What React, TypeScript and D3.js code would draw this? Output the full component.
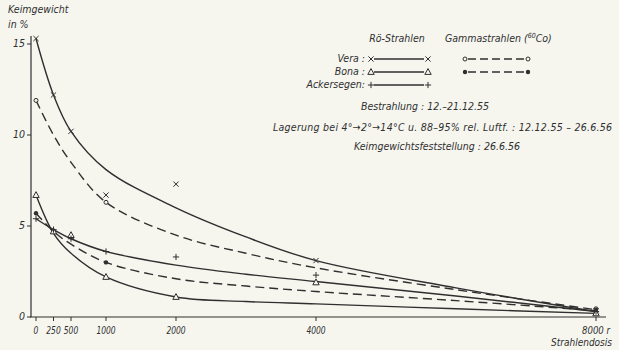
import * as d3 from "d3";

// x-axis ticks (Strahlendosis, r)
const doseTicks = [0, 250, 500, 1000, 2000, 4000, 8000];
const yTicks = [0, 5, 10, 15];

// hand-drawn fitted curves
const curveDoses = [0, 250, 500, 1000, 2000, 3000, 4000, 6000, 8000];
const veraRoCurve = [15.3, 12.2, 10.2, 8.1, 6.0, 4.4, 3.1, 1.6, 0.3];
const veraGammaCurve = [11.9, 10.0, 8.5, 6.3, 4.5, 3.5, 2.7, 1.5, 0.4];
const ackerCurve = [5.4, 4.8, 4.3, 3.6, 2.85, 2.35, 1.95, 1.15, 0.3];
const bonaGammaCurve = [5.7, 4.7, 4.0, 3.0, 2.1, 1.7, 1.4, 0.9, 0.35];
const bonaRoCurve = [6.7, 4.6, 3.5, 2.2, 1.1, 0.85, 0.72, 0.45, 0.2];

// measured points
const roDoses = [0, 250, 500, 1000, 2000, 4000, 8000];
const veraRoPts = [15.3, 12.2, 10.2, 6.7, 7.3, 3.1, 0.35];
const bonaRoPts = [6.7, 4.7, 4.5, 2.2, 1.1, 1.9, 0.2];
const ackerPts = [5.4, 4.8, 4.3, 3.6, 3.3, 2.3, 0.3];
const gammaDoses = [0, 1000, 8000];
const veraGammaPts = [11.9, 6.3, 0.45];
const bonaGammaPts = [5.7, 3.0, 0.4];

const ink = "#2f2f2f";
const paper = "#f6f6ef";
const font = "'DejaVu Sans Condensed', 'Liberation Sans Narrow', sans-serif";

type Kind = "x" | "o" | "tri" | "dot" | "plus";

function Marker({ x, y, kind }: { x: number; y: number; kind: Kind }) {
  const s = 2.6;
  if (kind === "x")
    return (
      <path d={`M${x - s},${y - s}L${x + s},${y + s}M${x - s},${y + s}L${x + s},${y - s}`} stroke={ink} strokeWidth={1} />
    );
  if (kind === "plus")
    return (
      <path d={`M${x - s - 0.5},${y}L${x + s + 0.5},${y}M${x},${y - s - 0.5}L${x},${y + s + 0.5}`} stroke={ink} strokeWidth={1} />
    );
  if (kind === "o") return <circle cx={x} cy={y} r={2} fill={paper} stroke={ink} strokeWidth={1} />;
  if (kind === "dot") return <circle cx={x} cy={y} r={2.2} fill={ink} />;
  return (
    <path d={`M${x},${y - 3.4}L${x + 3.2},${y + 2.4}L${x - 3.2},${y + 2.4}Z`} fill={paper} stroke={ink} strokeWidth={1} />
  );
}

export default function App() {
  const width = 619;
  const height = 350;

  const x = d3.scaleLinear().domain([0, 8000]).range([36, 596]);
  const y = d3.scaleLinear().domain([0, 15]).range([317, 44]);

  const line = d3
    .line<[number, number]>()
    .x((d) => x(d[0]))
    .y((d) => y(d[1]))
    .curve(d3.curveCatmullRom.alpha(0.5));

  const curves = [
    { vals: veraRoCurve, dash: null },
    { vals: veraGammaCurve, dash: "9 5" },
    { vals: ackerCurve, dash: null },
    { vals: bonaGammaCurve, dash: "9 5" },
    { vals: bonaRoCurve, dash: null },
  ];

  const points: { doses: number[]; vals: number[]; kind: Kind }[] = [
    { doses: roDoses, vals: veraRoPts, kind: "x" },
    { doses: roDoses, vals: bonaRoPts, kind: "tri" },
    { doses: roDoses, vals: ackerPts, kind: "plus" },
    { doses: gammaDoses, vals: veraGammaPts, kind: "o" },
    { doses: gammaDoses, vals: bonaGammaPts, kind: "dot" },
  ];

  const legendRows = [
    { name: "Vera :", ro: "x" as Kind, gamma: "o" as Kind, y: 59 },
    { name: "Bona :", ro: "tri" as Kind, gamma: "dot" as Kind, y: 72 },
    { name: "Ackersegen:", ro: "plus" as Kind, gamma: null, y: 85 },
  ];

  return (
    <div style={{ position: "fixed", left: 0, top: 0 }}>
      <svg width={width} height={height} style={{ display: "block" }} fontFamily={font} fontStyle="italic" fill={ink}>
        <rect width={width} height={height} fill={paper} />

        {/* axes */}
        <line x1={31} x2={31} y1={36} y2={317} stroke={ink} strokeWidth={1.2} />
        <line x1={30} x2={606} y1={317} y2={317} stroke={ink} strokeWidth={1.2} />
        {yTicks.map((t) => (
          <g key={t}>
            <line x1={27} x2={31} y1={y(t)} y2={y(t)} stroke={ink} />
            <text x={25} y={y(t)} textAnchor="end" dominantBaseline="middle" fontSize={10.5}>
              {t}
            </text>
          </g>
        ))}
        {doseTicks.map((t) => {
          const last = t === 8000;
          const label = last ? `${t} r` : String(t);
          const w = last ? 28 : label.length * 4.8;
          const left = last ? x(t) - 14 : x(t) - w / 2;
          return (
            <g key={t}>
              <line x1={x(t)} x2={x(t)} y1={317} y2={321} stroke={ink} />
              <text
                x={left}
                y={331}
                dominantBaseline="middle"
                fontSize={11}
                textLength={w}
                lengthAdjust="spacingAndGlyphs"
              >
                {label}
              </text>
            </g>
          );
        })}
        <text x={612} y={346} textAnchor="end" fontSize={10}>Strahlendosis</text>
        <text x={8} y={13} fontSize={10.5}>Keimgewicht</text>
        <text x={8} y={28} fontSize={10.5}>in %</text>

        {/* curves */}
        {curves.map((c, i) => (
          <path
            key={i}
            d={line(curveDoses.map((d, j) => [d, c.vals[j]] as [number, number])) || ""}
            fill="none"
            stroke={ink}
            strokeWidth={1.4}
            strokeDasharray={c.dash || undefined}
          />
        ))}

        {/* points */}
        {points.map((p, i) =>
          p.doses.map((d, j) => <Marker key={`${i}-${j}`} x={x(d)} y={y(p.vals[j])} kind={p.kind} />)
        )}

        {/* legend */}
        <text x={397} y={42} textAnchor="middle" fontSize={10.5}>Rö-Strahlen</text>
        <text x={445} y={42} fontSize={10.5}>
          Gammastrahlen (<tspan fontSize={7} dy={-4}>60</tspan>
          <tspan dy={4}>Co)</tspan>
        </text>
        {legendRows.map((r) => (
          <g key={r.name}>
            <text x={365} y={r.y} textAnchor="end" dominantBaseline="middle" fontSize={10.5}>
              {r.name}
            </text>
            <Marker x={371} y={r.y} kind={r.ro} />
            <line x1={374} x2={424} y1={r.y} y2={r.y} stroke={ink} strokeWidth={1.3} />
            <Marker x={428} y={r.y} kind={r.ro} />
            {r.gamma && (
              <g>
                <Marker x={465} y={r.y} kind={r.gamma} />
                <line x1={468} x2={525} y1={r.y} y2={r.y} stroke={ink} strokeWidth={1.3} strokeDasharray="8 4" />
                <Marker x={528} y={r.y} kind={r.gamma} />
              </g>
            )}
          </g>
        ))}
        <text x={425} y={110} textAnchor="middle" fontSize={10.5}>Bestrahlung : 12.–21.12.55</text>
        <text x={273} y={131} fontSize={10.5} textLength={339} lengthAdjust="spacing">
          Lagerung  bei  4°→2°→14°C u. 88–95% rel. Luftf. : 12.12.55 – 26.6.56
        </text>
        <text x={437} y={150} textAnchor="middle" fontSize={10.5}>Keimgewichtsfeststellung : 26.6.56</text>
      </svg>
    </div>
  );
}
